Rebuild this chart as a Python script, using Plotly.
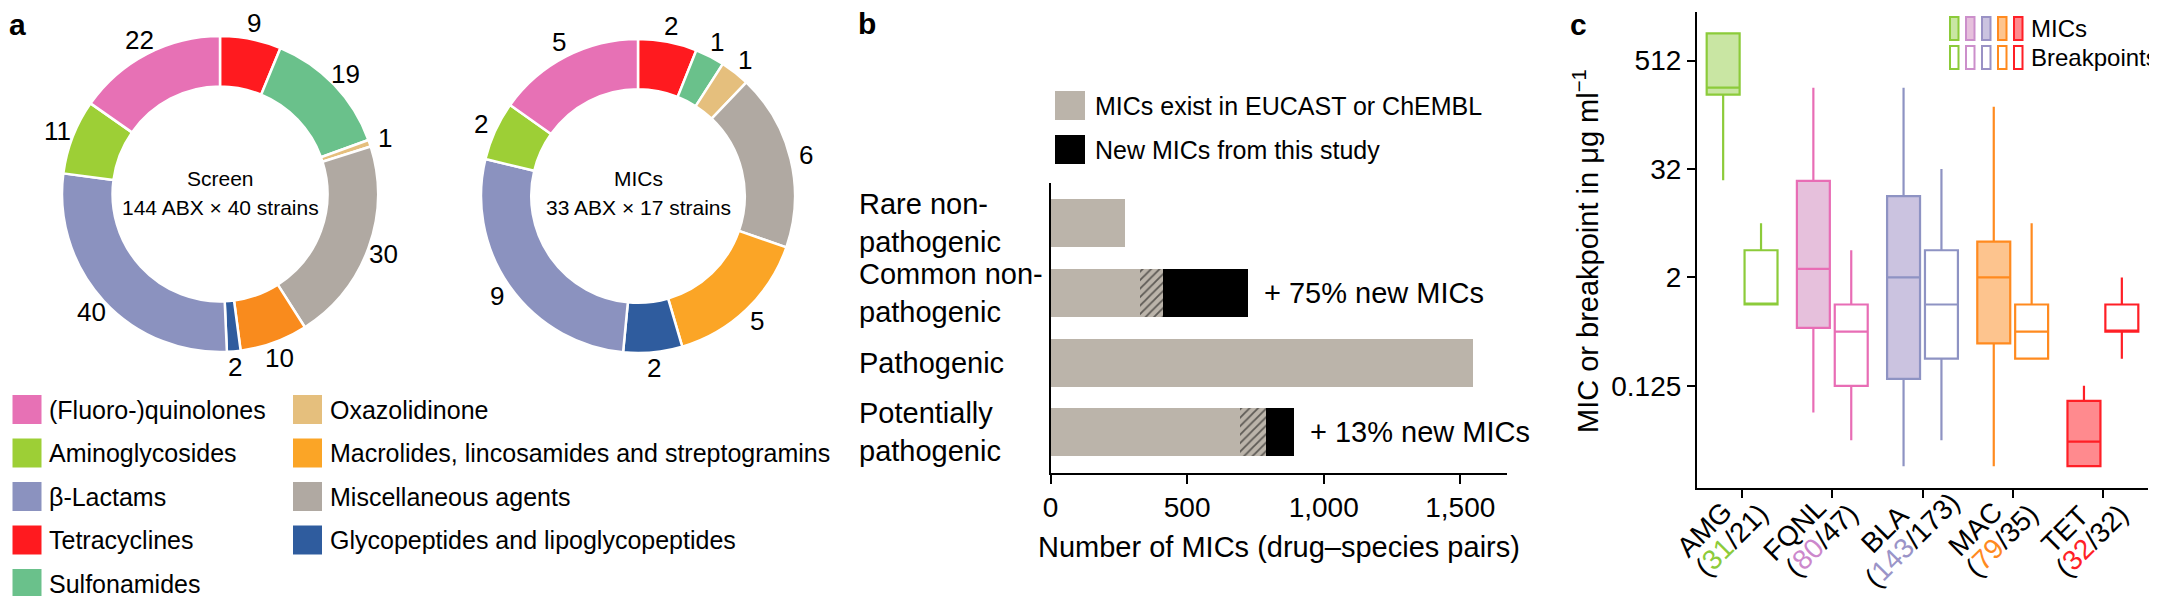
import math
import plotly.graph_objects as go

W, H = 2157, 596


def px(x):
    return x / W


def py(y):
    return 1 - y / H


FONT = "Liberation Sans, Arial, Helvetica, sans-serif"

# ---------------- panel a data ----------------
slice_classes = ["Tetracyclines", "Sulfonamides", "Oxazolidinone", "Miscellaneous agents",
                 "Macrolides, lincosamides and streptogramins",
                 "Glycopeptides and lipoglycopeptides", "β-Lactams", "Aminoglycosides",
                 "(Fluoro-)quinolones"]
screen_counts = [9, 19, 1, 30, 10, 2, 40, 11, 22]
mic_counts = [2, 1, 1, 6, 5, 2, 9, 2, 5]
legend_col1 = ["(Fluoro-)quinolones", "Aminoglycosides", "β-Lactams", "Tetracyclines", "Sulfonamides"]
legend_col2 = ["Oxazolidinone", "Macrolides, lincosamides and streptogramins",
               "Miscellaneous agents", "Glycopeptides and lipoglycopeptides"]
donut_titles = ["Screen", "MICs"]
donut_subtitles = ["144 ABX × 40 strains", "33 ABX × 17 strains"]

class_colors = {
    "(Fluoro-)quinolones": "#E771B5",
    "Aminoglycosides": "#9DCF36",
    "β-Lactams": "#8B92BF",
    "Tetracyclines": "#FF1A1F",
    "Sulfonamides": "#6AC18B",
    "Oxazolidinone": "#E5BF7D",
    "Macrolides, lincosamides and streptogramins": "#FBA526",
    "Miscellaneous agents": "#B0A9A2",
    "Glycopeptides and lipoglycopeptides": "#2F5C9E",
}
screen_colors = [class_colors[c] for c in slice_classes]
screen_colors[4] = "#F98B1D"
mic_colors = [class_colors[c] for c in slice_classes]

# ---------------- panel b data ----------------
species_groups = ["Rare non-pathogenic", "Common non-pathogenic", "Pathogenic", "Potentially pathogenic"]
species_labels = ["Rare non-<br>pathogenic", "Common non-<br>pathogenic", "Pathogenic",
                  "Potentially<br>pathogenic"]
existing_mics = [274, 329, 1547, 695]
overlap_mics = [0, 84, 0, 95]
new_mics = [0, 310, 0, 102]
gain_labels = ["", "+ 75% new MICs", "", "+ 13% new MICs"]
legend_b = ["MICs exist in EUCAST or ChEMBL", "New MICs from this study"]
b_ticks = [0, 500, 1000, 1500]

# ---------------- panel c data ----------------
drug_classes = ["AMG", "FQNL", "BLA", "MAC", "TET"]
n_mic = [31, 80, 143, 79, 32]
n_bp = [21, 47, 173, 35, 32]
mic_low = [24, 0.063, 0.016, 0.016, 0.016]
mic_q1 = [214, 0.55, 0.149, 0.37, 0.016]
mic_med = [256, 2.48, 2, 2, 0.03]
mic_q3 = [1024, 23.6, 16, 5, 0.085]
mic_high = [1024, 256, 256, 157, 0.125]
bp_low = [1, 0.031, 0.031, 0.25, 0.25]
bp_q1 = [1, 0.125, 0.25, 0.25, 0.5]
bp_med = [1, 0.5, 1, 0.5, 0.5]
bp_q3 = [4, 1, 4, 1, 1]
bp_high = [8, 4, 32, 8, 2]
c_ticks = [0.125, 2, 32, 512]
legend_c = ["MICs", "Breakpoints"]

c_line = ["#8CCB3A", "#E86DB5", "#8E93C3", "#FF8A1F", "#FF1F26"]
c_fill = ["#C9E6A3", "#E6C0DC", "#CBC3E0", "#FDC48E", "#FF8A8E"]
c_label = ["#8CCB3A", "#CC88CC", "#9A94C8", "#FF8A1F", "#FF1F26"]
c_legend_line = ["#8CCB3A", "#CC8FCB", "#9A92C5", "#FF8A1F", "#FF1F26"]

fig = go.Figure()
annotations = []
shapes = []


def ann(x, y, text, size, xanchor="center", yanchor="middle", xref="paper", yref="paper", **kw):
    d = dict(x=x, y=y, xref=xref, yref=yref, text=text, showarrow=False, xanchor=xanchor,
             yanchor=yanchor, borderpad=0, font=dict(size=size, family=FONT, color="black"))
    d.update(kw)
    annotations.append(d)


# ---------------- panel a: donuts ----------------
donuts = [
    (screen_counts, screen_colors, 212, 186, 316),
    (mic_counts, mic_colors, 630, 188, 314),
]
for vals, cols, cx, cy, d in donuts:
    fig.add_trace(go.Pie(
        values=vals, labels=slice_classes, sort=False, direction="clockwise", rotation=0,
        hole=0.68, textinfo="none",
        marker=dict(colors=cols, line=dict(color="white", width=2.5)),
        domain=dict(x=[px(cx - d / 2), px(cx + d / 2)], y=[py(cy + d / 2), py(cy - d / 2)]),
        showlegend=False, hoverinfo="skip",
    ))
    # value labels just outside each slice, at its mid angle
    total = sum(vals)
    cum = 0
    rl = d / 2 + 16
    for v in vals:
        ang = 2 * math.pi * (cum + v / 2) / total
        cum += v
        ann(px(cx + rl * math.sin(ang)), py(cy - rl * math.cos(ang)), str(v), 26)

for i, (cx, cy) in enumerate([(212, 186), (630, 188)]):
    ann(px(cx), py(170), donut_titles[i], 21)
    ann(px(cx), py(200), donut_subtitles[i], 21)

# legend a
for items, sx, tx in [(legend_col1, 4.5, 40), (legend_col2, 285, 321)]:
    for r, name in enumerate(items):
        top = 387 + r * 43.5
        shapes.append(dict(type="rect", xref="paper", yref="paper", x0=px(sx), x1=px(sx + 29),
                           y0=py(top + 29), y1=py(top), fillcolor=class_colors[name], line=dict(width=0)))
        ann(px(tx), py(top + 14.5), name, 25, xanchor="left")

# ---------------- panel b: bars ----------------
fig.add_trace(go.Bar(x=existing_mics, y=species_groups, orientation="h", xaxis="x", yaxis="y",
                     marker=dict(color="#BBB4AA", line=dict(width=0)), showlegend=False, hoverinfo="skip"))
fig.add_trace(go.Bar(x=overlap_mics, y=species_groups, orientation="h", xaxis="x", yaxis="y",
                     marker=dict(color="#BBB4AA", line=dict(width=0),
                                 pattern=dict(shape="/", fgcolor="black", size=6, solidity=0.3,
                                              fillmode="overlay")),
                     showlegend=False, hoverinfo="skip"))
fig.add_trace(go.Bar(x=new_mics, y=species_groups, orientation="h", xaxis="x", yaxis="y",
                     marker=dict(color="black", line=dict(width=0)), showlegend=False, hoverinfo="skip"))

for i, g in enumerate(species_groups):
    ann(px(850), g, species_labels[i], 29, xanchor="left", yref="y", align="left")
    if gain_labels[i]:
        total = existing_mics[i] + overlap_mics[i] + new_mics[i]
        ann(total, g, gain_labels[i], 29, xanchor="left", xref="x", yref="y", xshift=15)

for r, name in enumerate(legend_b):
    top = [83, 127][r]
    shapes.append(dict(type="rect", xref="paper", yref="paper", x0=px(1047), x1=px(1077),
                       y0=py(top + 29), y1=py(top), fillcolor=["#BBB4AA", "black"][r], line=dict(width=0)))
    ann(px(1086), py(top + 15), name, 25, xanchor="left")

ann(px(1271), py(539), "Number of MICs (drug–species pairs)", 29)

# ---------------- panel c: boxes ----------------
for i, dc in enumerate(drug_classes):
    fig.add_trace(go.Box(x=[dc], q1=[mic_q1[i]], median=[mic_med[i]], q3=[mic_q3[i]],
                         lowerfence=[mic_low[i]], upperfence=[mic_high[i]],
                         xaxis="x2", yaxis="y2", offsetgroup="mic", boxpoints=False,
                         fillcolor=c_fill[i], line=dict(color=c_line[i], width=2.2),
                         whiskerwidth=0, showlegend=False, hoverinfo="skip"))
    fig.add_trace(go.Box(x=[dc], q1=[bp_q1[i]], median=[bp_med[i]], q3=[bp_q3[i]],
                         lowerfence=[bp_low[i]], upperfence=[bp_high[i]],
                         xaxis="x2", yaxis="y2", offsetgroup="bp", boxpoints=False,
                         fillcolor="white", line=dict(color=c_line[i], width=2.2),
                         whiskerwidth=0, showlegend=False, hoverinfo="skip"))

# rotated two-line category labels under the ticks
for i, dc in enumerate(drug_classes):
    ann(dc, py(521), dc, 28, xref="x2", xshift=-38, textangle=-45)
    ann(dc, py(532), f"(<span style='color:{c_label[i]}'>{n_mic[i]}</span>/{n_bp[i]})", 28,
        xref="x2", xshift=-11, textangle=-45)

ann(px(1578), py(243), "MIC or breakpoint in μg ml<sup>−1</sup>", 29, textangle=-90)

for r, name in enumerate(legend_c):
    top = [9, 38][r]
    for k in range(5):
        x0 = 1942 + k * 16
        shapes.append(dict(type="rect", xref="paper", yref="paper", x0=px(x0), x1=px(x0 + 8.5),
                           y0=py(top + 23), y1=py(top),
                           fillcolor=c_fill[k] if r == 0 else "white",
                           line=dict(color=c_legend_line[k], width=2)))
    ann(px(2022), py(top + 11.5), name, 24, xanchor="left")

# panel letters
for letter, lx, ly in [("a", 0, 17), ("b", 849, 15), ("c", 1561, 17)]:
    ann(px(lx), py(ly), f"<b>{letter}</b>", 30, xanchor="left")

fig.update_layout(
    width=W, height=H, margin=dict(l=0, r=0, t=0, b=0, pad=0), autosize=False,
    paper_bgcolor="white", plot_bgcolor="white",
    font=dict(family=FONT, color="black"),
    barmode="stack", bargap=0.31,
    boxmode="group", boxgap=0.16, boxgroupgap=0.13,
    xaxis=dict(domain=[px(1042.5), px(1499)], range=[0, 1671], anchor="y", automargin=False,
               showline=True, linecolor="black", linewidth=2.2, ticks="outside", ticklen=9,
               tickwidth=2, tickcolor="black", tickvals=b_ticks, tickformat=",",
               tickfont=dict(size=28, family=FONT, color="black"), showgrid=False, zeroline=False),
    yaxis=dict(domain=[py(464.5), py(175)], type="category", categoryarray=species_groups,
               range=[3.58, -0.58], anchor="x", automargin=False,
               showline=True, linecolor="black", linewidth=2.2,
               showticklabels=False, ticks="", showgrid=False, zeroline=False),
    xaxis2=dict(domain=[px(1689), px(2140)], anchor="y2", type="category", automargin=False,
                categoryarray=drug_classes, range=[-0.5, 4.5],
                showline=True, linecolor="black", linewidth=2.2, ticks="outside", ticklen=8,
                tickwidth=2, tickcolor="black", showticklabels=False,
                showgrid=False, zeroline=False),
    yaxis2=dict(domain=[py(480), py(4)], anchor="x2", type="log", automargin=False,
                range=[math.log10(2 ** -6.77), math.log10(2 ** 10.79)],
                showline=True, linecolor="black", linewidth=2.2, ticks="outside", ticklen=8,
                tickwidth=2, tickcolor="black", tickvals=c_ticks,
                ticktext=[str(t) for t in c_ticks],
                tickfont=dict(size=28, family=FONT, color="black"), showgrid=False, zeroline=False),
    annotations=annotations, shapes=shapes,
)

fig.write_html("out.html")
